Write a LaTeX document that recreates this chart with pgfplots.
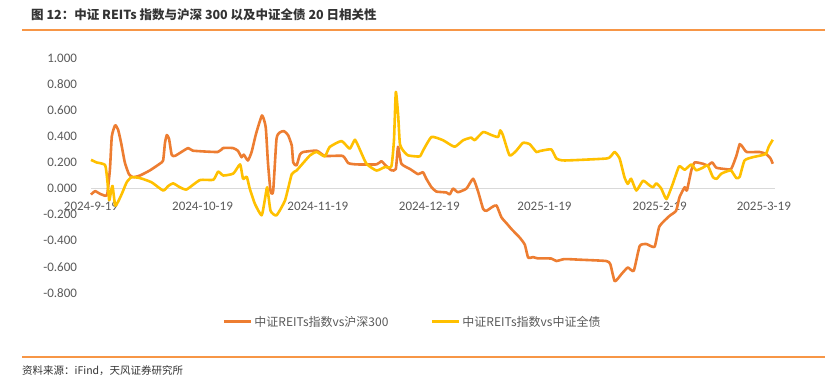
\documentclass[border=0pt]{standalone}
\usepackage{fontspec}
\setmainfont{Carlito}
\newfontfamily\cjk{Noto Sans CJK SC}
\usepackage{pgfplots}
\usepackage{pgfplotstable}
\pgfplotsset{compat=1.18}
\definecolor{cOrange}{HTML}{ED7D31}
\definecolor{cYellow}{HTML}{FFC000}
\definecolor{cGrid}{HTML}{D9D9D9}
\definecolor{cText}{HTML}{595959}
\definecolor{cRule}{HTML}{F79646}

% day index from 2024-9-19 ; 20-day correlation
\pgfplotstableread{
d v
0 -0.046
1.1 -0.02
2.4 -0.04
3.8 -0.055
4.4 -0.04
5.1 0.15
5.6 0.40
6.5 0.485
7.3 0.45
8.1 0.35
9.1 0.20
10.2 0.11
11.3 0.087
13.2 0.10
15.9 0.14
18.5 0.19
19.4 0.215
19.9 0.35
20.4 0.41
21.0 0.38
21.7 0.26
22.6 0.25
26.1 0.31
27.4 0.29
34.1 0.28
35.5 0.31
38.2 0.31
39.5 0.29
40.5 0.24
41.1 0.26
42.2 0.215
43.2 0.28
44.4 0.42
46.0 0.56
47.0 0.47
47.6 0.20
48.3 -0.02
49.0 -0.02
49.9 0.38
50.8 0.43
51.9 0.44
53.0 0.41
54.0 0.33
54.4 0.20
55.3 0.177
56.2 0.26
57.1 0.28
60.7 0.29
62.9 0.25
67.7 0.25
69.2 0.195
71.4 0.185
76.8 0.185
78.1 0.21
79.0 0.185
80.8 0.14
82.0 0.15
82.6 0.32
83.5 0.19
85.8 0.15
88.0 0.11
89.3 0.125
90.2 0.075
91.6 0.01
92.9 -0.023
95.6 -0.03
96.5 -0.045
97.4 0.0
98.7 -0.028
101.0 0.0
102.8 0.075
104.1 -0.02
105.5 -0.157
106.4 -0.17
108.0 -0.14
109.1 -0.13
110.4 -0.22
111.9 -0.27
113.1 -0.31
115.3 -0.375
116.7 -0.43
117.6 -0.53
118.9 -0.525
120.2 -0.535
123.8 -0.536
125.2 -0.555
127.4 -0.54
131.5 -0.545
138.6 -0.555
139.7 -0.58
140.9 -0.71
142.7 -0.655
144.4 -0.605
146.0 -0.63
147.6 -0.44
149.4 -0.425
151.6 -0.446
152.9 -0.29
155.6 -0.21
157.4 -0.17
158.3 -0.067
159.7 0.01
160.3 -0.015
161.5 0.14
162.4 0.20
164.6 0.19
165.9 0.177
167.1 0.20
168.2 0.16
170.4 0.15
172.2 0.15
173.6 0.25
174.5 0.34
175.3 0.318
176.4 0.28
179.8 0.28
181.6 0.265
182.8 0.23
183.4 0.19
}\hsTable

\pgfplotstableread{
d v
0 0.22
1.5 0.20
3.8 0.18
4.4 0.06
4.9 -0.09
5.4 -0.02
5.8 0.02
6.5 -0.13
7.3 -0.10
8.3 -0.04
9.6 0.048
10.9 0.087
13.2 0.08
16.3 0.048
19.4 -0.015
20.8 0.02
22.1 0.04
23.9 0.01
25.7 -0.007
29.3 0.065
32.9 0.067
34.2 0.13
35.6 0.10
38.3 0.115
40.1 0.185
40.9 0.075
41.9 0.09
42.7 0.0
44.1 -0.118
45.9 -0.205
46.8 -0.08
47.4 0.01
48.3 -0.17
49.9 -0.205
52.2 -0.09
54.0 0.11
55.3 0.138
58.9 0.254
60.7 0.28
62.9 0.246
64.2 0.318
67.4 0.364
69.6 0.305
71.0 0.374
72.3 0.30
74.1 0.19
76.8 0.138
79.0 0.164
80.8 0.17
81.5 0.37
82.0 0.74
82.6 0.57
83.1 0.34
84.0 0.29
85.3 0.254
88.4 0.246
89.3 0.29
91.6 0.395
94.7 0.37
97.8 0.32
100.1 0.37
102.3 0.39
103.2 0.37
105.5 0.433
107.7 0.41
109.5 0.395
110.1 0.446
110.8 0.41
112.6 0.254
114.4 0.29
116.2 0.35
118.0 0.34
119.8 0.28
120.7 0.287
123.8 0.30
125.2 0.23
127.4 0.215
138.6 0.23
139.9 0.25
140.9 0.28
142.2 0.23
143.5 0.087
144.4 0.036
145.3 0.075
146.7 -0.015
148.5 0.06
150.3 0.023
151.2 0.01
152.1 0.04
153.4 0.0
154.8 -0.08
156.5 0.036
158.2 0.17
159.7 0.144
161.5 0.185
162.8 0.14
164.6 0.16
165.9 0.177
167.3 0.087
168.3 0.075
169.5 0.113
170.9 0.13
172.2 0.138
173.6 0.08
174.5 0.09
175.8 0.215
178.0 0.24
180.3 0.254
181.6 0.267
182.3 0.32
183.4 0.374
}\bondTable

\begin{document}
\begin{tikzpicture}[x=1pt,y=1pt]
\path[use as bounding box] (0,0) rectangle (825,377);
\node[anchor=west, inner sep=0, text=black!80] at (31,362) {\cjk\bfseries\fontsize{12.5}{15}\selectfont 图 12：中证 REITs 指数与沪深 300 以及中证全债 20 日相关性};
\draw[cRule, line width=1.2pt] (22,347) -- (825,347);
\draw[cRule, line width=1.2pt] (22,20) -- (825,20);
\node[anchor=west, inner sep=0, text=black!80] at (22,6) {\cjk\fontsize{10.5}{12}\selectfont 资料来源：iFind，天风证券研究所};
\begin{axis}[
  at={(91pt,84pt)}, anchor=south west,
  width=684pt, height=235pt, scale only axis,
  xmin=0, xmax=184, ymin=-0.8, ymax=1.0,
  axis x line=middle, axis y line=left,
  x axis line style={-, draw=cGrid, line width=0.8pt},
  y axis line style={draw=none},
  xtick={0,30,61,91,122,153,181},
  xticklabels={2024-9-19,2024-10-19,2024-11-19,2024-12-19,2025-1-19,2025-2-19,2025-3-19},
  ytick={-0.8,-0.6,-0.4,-0.2,0,0.2,0.4,0.6,0.8,1.0},
  major tick length=0,
  hide obscured x ticks=false, hide obscured y ticks=false,
  /pgf/number format/assume math mode=true,
  tick label style={text=cText, font=\fontsize{13}{15}\selectfont},
  yticklabel style={/pgf/number format/.cd, fixed, fixed zerofill, precision=3, /tikz/.cd, xshift=-10.5pt},
  xticklabel style={yshift=-10pt},
  clip=false,
  legend style={at={(0.47,-0.123)}, anchor=center, draw=none, fill=none,
    legend columns=2, font=\cjk\fontsize{12}{14}\selectfont, text=cText,
    /tikz/every even column/.append style={column sep=40pt}},
  legend image code/.code={\draw[#1, line width=3pt] (0pt,0pt) -- (27pt,0pt);},
]
\addplot[cOrange, line width=2.6pt, line join=round, smooth, tension=0.3] table[x=d,y=v] {\hsTable};
\addlegendentry{中证REITs指数vs沪深300}
\addplot[cYellow, line width=2.6pt, line join=round, smooth, tension=0.3] table[x=d,y=v] {\bondTable};
\addlegendentry{中证REITs指数vs中证全债}
\end{axis}
\end{tikzpicture}
\end{document}
